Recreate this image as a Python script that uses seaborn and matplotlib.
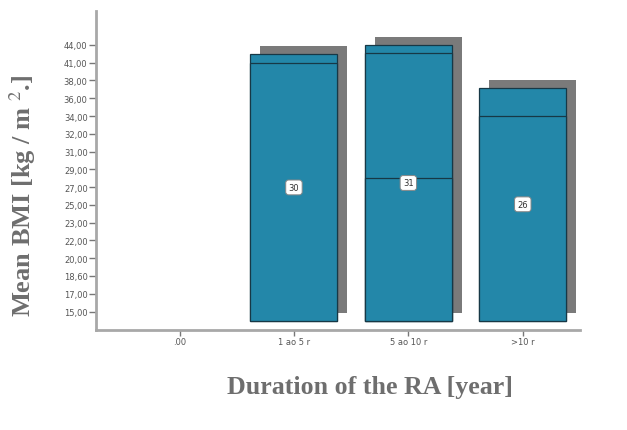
import numpy as np
import pandas as pd
import matplotlib
matplotlib.use("Agg")
import matplotlib.pyplot as plt
import matplotlib.patheffects as pe
import seaborn as sns

# ---------------- data ----------------
categories = [".00", "1 ao 5 r", "5 ao 10 r", ">10 r"]
tick_values = [15.0, 17.0, 18.6, 20.0, 22.0, 23.0, 25.0, 27.0,
               29.0, 31.0, 32.0, 34.0, 36.0, 38.0, 41.0, 44.0]
tick_labels = ["15,00", "17,00", "18,60", "20,00", "22,00", "23,00", "25,00", "27,00",
               "29,00", "31,00", "32,00", "34,00", "36,00", "38,00", "41,00", "44,00"]
bar_top = [np.nan, 42.5, 44.0, 37.2]
bar_mid = [np.nan, 41.0, 42.6, 34.0]
bar_low = [np.nan, np.nan, 28.0, np.nan]
counts = ["", "30", "31", "26"]
baseline = 13.93

# ---------------- style ----------------
sns.set_style("white")
plt.rcParams["font.family"] = ["DejaVu Sans"]
plt.rcParams["mathtext.fontset"] = "stix"

bar_color = "#2387a9"
edge_color = "#173846"
shadow_color = "#7a7a7a"
text_gray = "#6e6e6e"
spine_gray = "#a8a8a8"

fig = plt.figure(figsize=(6.27, 4.31), dpi=100)
ax = fig.add_axes([96 / 627, 1 - 331 / 431, (580 - 96) / 627, (331 - 12) / 431])

tv = np.array(tick_values)
ti = np.arange(len(tv), dtype=float)


def fwd(v):
    v = np.asarray(v, float)
    lo = (v - tv[0]) / (tv[1] - tv[0])
    hi = ti[-1] + (v - tv[-1]) / (tv[-1] - tv[-2])
    mid = np.interp(v, tv, ti)
    return np.where(v < tv[0], lo, np.where(v > tv[-1], hi, mid))


def inv(p):
    p = np.asarray(p, float)
    lo = tv[0] + p * (tv[1] - tv[0])
    hi = tv[-1] + (p - ti[-1]) * (tv[-1] - tv[-2])
    mid = np.interp(p, ti, tv)
    return np.where(p < 0, lo, np.where(p > ti[-1], hi, mid))


layers = [bar_top, bar_mid, bar_low]
for li, layer in enumerate(layers):
    df = pd.DataFrame({"cat": categories, "val": layer})
    n_before = len(ax.patches)
    sns.barplot(data=df, x="cat", y="val", order=categories, color=bar_color,
                width=0.76, edgecolor=edge_color, linewidth=0.9, saturation=1,
                errorbar=None, ax=ax)
    for p in ax.patches[n_before:]:
        h = p.get_height()
        if np.isfinite(h):
            p.set_y(baseline)
            p.set_height(h - baseline)
            if li == 0:
                p.set_path_effects([
                    pe.SimplePatchShadow(offset=(7.2, 5.8), shadow_rgbFace=shadow_color, alpha=1.0),
                    pe.Normal()])

ax.set_yscale("function", functions=(fwd, inv))
ax.set_ylim(inv(-1.04), inv(16.91))
ax.set_xlim(-0.73, 3.5)
ax.set_yticks(tick_values, tick_labels)
ax.set_xticks(range(len(categories)), categories)
ax.minorticks_off()
ax.set_xlabel("")
ax.set_ylabel("")

# count labels at the middle of each bar
for i, (top, c) in enumerate(zip(bar_top, counts)):
    if c and np.isfinite(top):
        ymid = float(inv((fwd(baseline) + fwd(top)) / 2))
        ax.text(i, ymid, c, ha="center", va="center", fontsize=6, color="#333333",
                bbox=dict(boxstyle="round,pad=0.35", fc="white", ec="#888888", lw=0.7),
                zorder=5)

for s in ["top", "right"]:
    ax.spines[s].set_visible(False)
for s in ["left", "bottom"]:
    ax.spines[s].set_color(spine_gray)
    ax.spines[s].set_linewidth(2)

ax.tick_params(axis="y", length=5, width=1, color="#777777", labelsize=6,
               labelcolor="#555555", pad=1, left=True)
ax.tick_params(axis="x", length=4, width=1, color="#777777", labelsize=6,
               labelcolor="#555555", pad=1, bottom=True)

fig.text(370 / 627, 1 - 388 / 431, "Duration of the RA [year]", ha="center", va="center",
         fontsize=18.6, fontweight="bold", family=["Liberation Serif"], color=text_gray)
fig.text(23 / 627, 1 - 196 / 431, r"Mean BMI [kg / m $^{2}$.]", ha="center", va="center",
         rotation=90, fontsize=19, fontweight="bold", family=["Liberation Serif"],
         color=text_gray)

fig.savefig("out.png", dpi=100)
